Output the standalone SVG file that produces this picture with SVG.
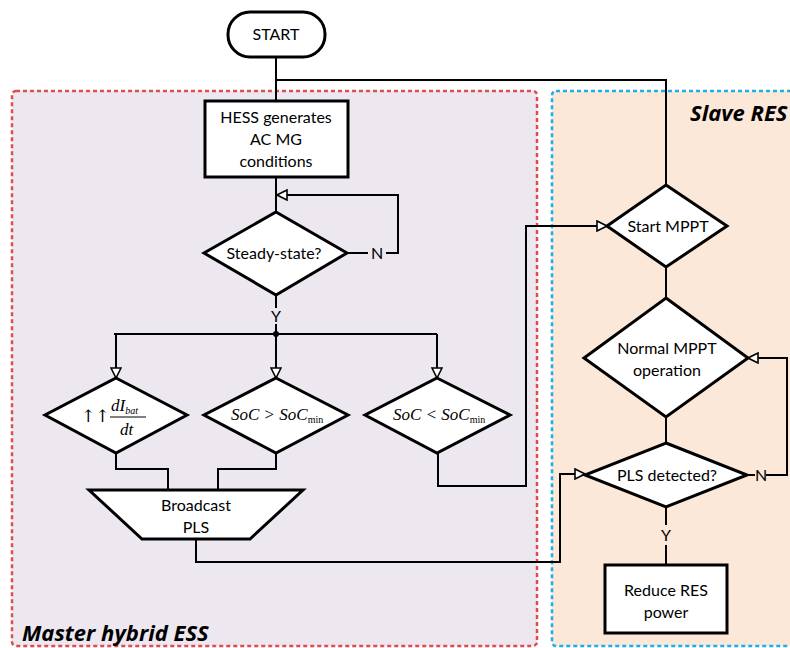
<svg xmlns="http://www.w3.org/2000/svg" width="790" height="648" viewBox="0 0 790 648">
<defs>
<style>
.shape{fill:#fff;stroke:#000;stroke-width:3;stroke-linejoin:miter}
.line{fill:none;stroke:#000;stroke-width:2}
.t{font-family:Lato,"Liberation Sans",sans-serif;font-size:16px;fill:#000;text-anchor:middle}
.m{font-family:"Liberation Serif","Times New Roman",serif;font-style:italic;font-size:17px;fill:#000}
.title{font-family:"Open Sans","Liberation Sans",sans-serif;font-weight:bold;font-style:italic;font-size:22px;fill:#000}
</style>
<marker id="ah" viewBox="0 0 12 12" refX="11" refY="6" markerWidth="12" markerHeight="12" markerUnits="userSpaceOnUse" orient="auto">
<path d="M1,1 L11,6 L1,11 Z" fill="#fff" stroke="#000" stroke-width="1.6"/>
</marker>
</defs>
<rect width="790" height="648" fill="#fff"/>
<g id="region-master">
<rect x="12" y="91" width="525" height="555" rx="4" fill="#EDE8F0" stroke="#E04B4F" stroke-width="2.5" stroke-dasharray="4 3"/>
<text class="title" x="22" y="641">Master hybrid ESS</text>
</g>
<g id="region-slave">
<rect x="552" y="91" width="250" height="555" rx="4" fill="#FCE8D9" stroke="#1AB0EC" stroke-width="2.5" stroke-dasharray="4 3"/>
<text class="title" x="690" y="121">Slave RES</text>
</g>
<g id="connectors">
<path class="line" d="M276,57 V101"/>
<path class="line" d="M276,80 H666 V185"/>
<path class="line" d="M276,177 V212"/>
<path class="line" d="M347,253 H368 M386,253 H398 V195 H277" marker-end="url(#ah)"/>
<path class="line" d="M276,295 V308 M276,324 V334"/>
<path class="line" d="M114,334 H437"/>
<circle cx="276" cy="334" r="3" fill="#000"/>
<path class="line" d="M116,334 V378" marker-end="url(#ah)"/>
<path class="line" d="M276,334 V378" marker-end="url(#ah)"/>
<path class="line" d="M437,334 V378" marker-end="url(#ah)"/>
<path class="line" d="M116,453 V469 H168 V490"/>
<path class="line" d="M276,453 V469 H218 V490"/>
<path class="line" d="M438,453 V486 H526 V226 H607" marker-end="url(#ah)"/>
<path class="line" d="M196,539 V562 H560 V474 H585" marker-end="url(#ah)"/>
<path class="line" d="M666,267 V298"/>
<path class="line" d="M666,417 V443"/>
<path class="line" d="M747,475 H755 M766,475 H787 V358 H748" marker-end="url(#ah)"/>
<path class="line" d="M666,507 V525 M666,545 V565"/>
<text class="t" x="377" y="259">N</text>
<text class="t" x="276" y="322">Y</text>
<text class="t" x="761" y="481">N</text>
<text class="t" x="666" y="541">Y</text>
</g>
<g id="start">
<rect x="228" y="12" width="97" height="45" rx="22" class="shape"/>
<text class="t" x="276" y="40">START</text>
</g>
<g id="hess">
<rect x="205" y="101" width="143" height="76" class="shape"/>
<text class="t" x="276" y="123">HESS generates</text>
<text class="t" x="276" y="145">AC MG</text>
<text class="t" x="276" y="167">conditions</text>
</g>
<g id="steady">
<path d="M276,212 L347,253 L276,295 L204,253 Z" class="shape"/>
<text class="t" x="274" y="259">Steady-state?</text>
</g>
<g id="dibat">
<path d="M116,378 L187,415 L116,453 L45,415 Z" class="shape"/>
<text x="81" y="422" font-family="'DejaVu Serif',serif" font-size="17">↑↑</text>
<text class="m" x="111" y="411">dI<tspan font-size="10" dy="3">bat</tspan></text>
<line x1="110" y1="417" x2="146" y2="417" stroke="#000" stroke-width="1"/>
<text class="m" x="120" y="435">dt</text>
</g>
<g id="socgt">
<path d="M276,378 L348,415 L276,453 L204,415 Z" class="shape"/>
<text class="m" x="231" y="420">SoC &gt; SoC<tspan font-style="normal" font-size="10" dy="3">min</tspan></text>
</g>
<g id="soclt">
<path d="M437,378 L510,415 L437,453 L365,415 Z" class="shape"/>
<text class="m" x="393" y="420">SoC &lt; SoC<tspan font-style="normal" font-size="10" dy="3">min</tspan></text>
</g>
<g id="broadcast">
<path d="M89,490 L303,490 L250,539 L142,539 Z" class="shape"/>
<text class="t" x="196" y="511">Broadcast</text>
<text class="t" x="196" y="533">PLS</text>
</g>
<g id="startmppt">
<path d="M666,185 L727,226 L666,267 L607,226 Z" class="shape"/>
<text class="t" x="668" y="232">Start MPPT</text>
</g>
<g id="normal">
<path d="M666,298 L748,358 L666,417 L584,358 Z" class="shape"/>
<text class="t" x="667" y="354">Normal MPPT</text>
<text class="t" x="667" y="376">operation</text>
</g>
<g id="plsdet">
<path d="M666,443 L747,475 L666,507 L585,475 Z" class="shape"/>
<text class="t" x="667" y="481">PLS detected?</text>
</g>
<g id="reduce">
<rect x="605" y="565" width="122" height="68" class="shape"/>
<text class="t" x="666" y="596">Reduce RES</text>
<text class="t" x="666" y="618">power</text>
</g>
</svg>
